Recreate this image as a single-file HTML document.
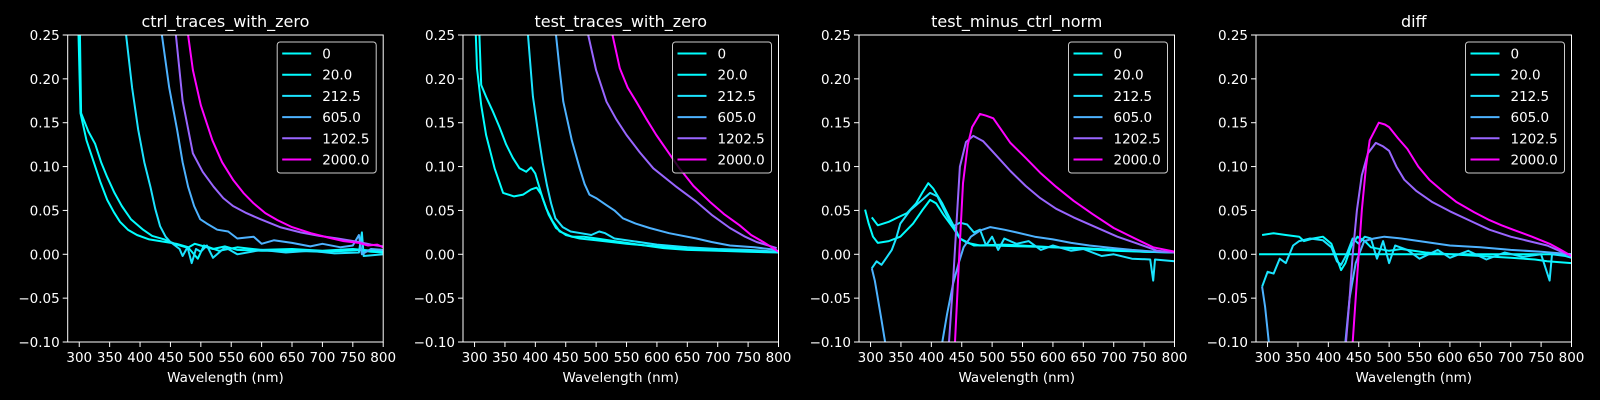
<!DOCTYPE html>
<html><head><meta charset="utf-8"><style>
html,body{margin:0;padding:0;background:#000;width:1600px;height:400px;overflow:hidden}
svg{display:block;font-family:"DejaVu Sans","Liberation Sans",sans-serif}
</style></head><body>
<svg id="fig" width="1600" height="400" viewBox="0 0 1600 400"></svg>
<script>
const panelTitles = ["ctrl_traces_with_zero","test_traces_with_zero","test_minus_ctrl_norm","diff"];
const seriesLabels = ["0","20.0","212.5","605.0","1202.5","2000.0"];
const seriesColors = ["#00ffff","#03fcff","#1be4ff","#4db2ff","#9966ff","#ff00ff"];
const xTicks = [300,350,400,450,500,550,600,650,700,750,800];
const yTicks = [-0.10,-0.05,0.00,0.05,0.10,0.15,0.20,0.25];
const yTickLabels = ["\u22120.10","\u22120.05","0.00","0.05","0.10","0.15","0.20","0.25"];

// panel 1: ctrl_traces_with_zero
const p1s0 = [[297,0.30],[302,0.161],[312,0.13],[323,0.107],[335,0.082],[346,0.062],[357,0.048],[367,0.037],[380,0.028],[395,0.022],[415,0.017],[433,0.015],[460,0.012],[480,0.008],[490,0.012],[500,0.01],[520,0.006],[540,0.009],[560,0.005],[600,0.004],[650,0.004],[700,0.003],[740,0.004],[760,0.005],[780,0.003],[800,0.002]];
const p1s1 = [[300,0.30],[303,0.161],[315,0.14],[326,0.126],[336,0.105],[346,0.088],[358,0.07],[370,0.055],[385,0.04],[405,0.028],[420,0.021],[440,0.017],[460,0.011],[480,0.007],[495,-0.005],[505,0.01],[530,0.004],[560,0.008],[600,0.005],[650,0.006],[700,0.004],[750,0.006],[800,0.003]];
const p1s2 = [[375,0.30],[377,0.25],[387,0.19],[397,0.142],[407,0.105],[417,0.077],[425,0.052],[433,0.032],[442,0.02],[450,0.014],[465,0.006],[470,-0.002],[478,0.008],[485,-0.01],[492,0.006],[500,0.003],[510,0.01],[520,-0.004],[540,0.008],[560,0.0],[600,0.005],[640,0.002],[680,0.004],[720,0.001],[760,0.002],[765,0.025],[768,-0.002],[800,0.0]];
const p1s3 = [[434,0.30],[436,0.25],[448,0.19],[461,0.142],[470,0.105],[479,0.077],[489,0.055],[499,0.04],[510,0.035],[527,0.028],[545,0.026],[560,0.018],[587,0.02],[600,0.012],[620,0.016],[650,0.013],[680,0.009],[700,0.012],[730,0.008],[750,0.01],[760,0.022],[765,0.0],[780,0.006],[800,0.005]];
const p1s4 = [[457,0.30],[459,0.25],[470,0.175],[487,0.115],[503,0.094],[521,0.077],[537,0.064],[553,0.055],[575,0.047],[598,0.04],[630,0.031],[664,0.025],[695,0.021],[725,0.018],[760,0.014],[780,0.011],[800,0.009]];
const p1s5 = [[477,0.30],[479,0.25],[487,0.21],[500,0.17],[519,0.13],[535,0.105],[553,0.085],[570,0.07],[587,0.058],[606,0.047],[626,0.039],[650,0.031],[681,0.024],[710,0.019],[735,0.015],[760,0.013],[775,0.01],[790,0.011],[800,0.008]];

// panel 2: test_traces_with_zero
const p2s0 = [[300,0.30],[302,0.25],[304,0.212],[311,0.17],[319,0.136],[333,0.098],[347,0.07],[365,0.066],[380,0.068],[393,0.074],[402,0.076],[410,0.068],[418,0.052],[428,0.038],[440,0.026],[460,0.02],[480,0.02],[501,0.018],[530,0.015],[560,0.012],[611,0.007],[650,0.005],[700,0.004],[750,0.003],[800,0.002]];
const p2s1 = [[306,0.30],[308,0.25],[311,0.193],[320,0.178],[330,0.163],[341,0.145],[352,0.125],[363,0.11],[374,0.098],[385,0.094],[393,0.099],[400,0.092],[412,0.064],[422,0.045],[434,0.03],[450,0.022],[473,0.018],[500,0.016],[550,0.012],[600,0.009],[650,0.006],[700,0.005],[750,0.004],[800,0.003]];
const p2s2 = [[387,0.30],[388,0.25],[396,0.18],[405,0.136],[412,0.105],[419,0.079],[426,0.058],[433,0.041],[445,0.031],[458,0.026],[475,0.024],[492,0.022],[505,0.026],[515,0.024],[530,0.018],[560,0.015],[600,0.011],[650,0.008],[700,0.006],[750,0.005],[800,0.003]];
const p2s3 = [[432,0.30],[434,0.25],[440,0.21],[446,0.174],[460,0.13],[473,0.098],[481,0.08],[489,0.068],[500,0.064],[517,0.056],[530,0.05],[544,0.041],[565,0.035],[588,0.03],[620,0.024],[665,0.018],[690,0.014],[720,0.01],[760,0.008],[797,0.005]];
const p2s4 = [[485,0.30],[487,0.25],[500,0.21],[517,0.174],[533,0.154],[550,0.136],[572,0.116],[594,0.098],[630,0.078],[665,0.06],[690,0.045],[720,0.03],[745,0.02],[764,0.014],[797,0.007]];
const p2s5 = [[525,0.30],[527,0.25],[539,0.212],[552,0.19],[566,0.174],[582,0.155],[599,0.136],[618,0.117],[637,0.098],[660,0.078],[687,0.06],[710,0.046],[736,0.033],[755,0.022],[775,0.014],[800,0.003]];

// panel 3: test_minus_ctrl_norm
const p3s0 = [[291,0.051],[297,0.035],[304,0.02],[312,0.013],[330,0.015],[349,0.02],[370,0.035],[385,0.05],[398,0.062],[408,0.058],[420,0.045],[436,0.03],[447,0.018],[459,0.013],[480,0.01],[500,0.01],[550,0.009],[600,0.008],[650,0.006],[700,0.004],[750,0.003],[800,0.002]];
const p3s1 = [[302,0.042],[312,0.033],[330,0.037],[345,0.042],[360,0.047],[375,0.058],[385,0.07],[395,0.081],[403,0.075],[418,0.058],[431,0.04],[440,0.028],[447,0.018],[470,0.01],[520,0.011],[600,0.008],[650,0.007],[700,0.005],[750,0.003],[800,0.002]];
const p3s2 = [[302,-0.016],[310,-0.008],[318,-0.012],[327,-0.003],[335,0.005],[342,0.018],[349,0.035],[365,0.05],[385,0.062],[398,0.07],[410,0.066],[425,0.045],[436,0.032],[447,0.036],[459,0.034],[470,0.025],[480,0.028],[490,0.01],[500,0.02],[510,0.005],[520,0.018],[540,0.012],[560,0.015],[580,0.005],[600,0.01],[630,0.004],[650,0.006],[680,-0.002],[700,0.0],[730,-0.005],[760,-0.006],[765,-0.03],[768,-0.006],[800,-0.008]];
const p3s3 = [[302,-0.016],[307,-0.03],[311,-0.046],[318,-0.075],[324,-0.1],[326,-0.13],[416,-0.13],[418,-0.1],[426,-0.068],[436,-0.033],[445,-0.01],[453,0.008],[465,0.02],[480,0.027],[497,0.031],[520,0.028],[540,0.025],[570,0.02],[600,0.017],[630,0.013],[660,0.01],[700,0.007],[730,0.005],[770,0.003],[800,0.002]];
const p3s4 = [[425,-0.13],[429,-0.1],[435,-0.04],[440,0.02],[447,0.1],[457,0.128],[469,0.135],[485,0.129],[505,0.114],[530,0.095],[555,0.078],[579,0.064],[605,0.052],[634,0.042],[670,0.031],[706,0.02],[740,0.012],[772,0.004],[800,0.002]];
const p3s5 = [[436,-0.13],[439,-0.1],[446,0.0],[452,0.081],[460,0.125],[467,0.145],[480,0.16],[490,0.158],[502,0.155],[515,0.142],[530,0.127],[555,0.11],[579,0.093],[605,0.077],[634,0.061],[665,0.046],[700,0.03],[735,0.018],[765,0.008],[800,0.003]];

// panel 4: diff
const p4s0 = [[286,0.0],[400,0.0],[500,0.0],[600,0.0],[700,0.0],[800,0.0]];
const p4s1 = [[291,0.022],[310,0.024],[330,0.022],[352,0.02],[360,0.015],[375,0.018],[391,0.02],[405,0.012],[414,-0.005],[421,-0.018],[428,-0.01],[438,0.01],[448,0.02],[460,0.015],[470,0.008],[500,0.004],[520,0.006],[560,0.002],[600,0.0],[650,-0.002],[700,-0.004],[740,-0.006],[760,-0.008],[800,-0.01]];
const p4s2 = [[291,-0.037],[300,-0.02],[310,-0.022],[320,-0.005],[330,-0.01],[342,0.01],[352,0.015],[370,0.018],[391,0.016],[405,0.008],[414,-0.008],[421,-0.012],[430,0.0],[440,0.018],[450,0.012],[460,0.02],[470,0.018],[480,-0.005],[490,0.015],[500,-0.01],[510,0.01],[530,0.005],[550,-0.005],[580,0.005],[600,-0.004],[630,0.004],[660,-0.006],[690,0.002],[720,-0.003],[750,0.0],[764,-0.03],[768,0.0],[790,-0.002],[800,-0.004]];
const p4s3 = [[291,-0.037],[296,-0.06],[302,-0.1],[305,-0.13],[426,-0.13],[428,-0.1],[435,-0.05],[445,-0.01],[459,0.015],[475,0.018],[492,0.02],[520,0.018],[550,0.015],[600,0.01],[650,0.008],[700,0.005],[750,0.003],[800,0.0]];
const p4s4 = [[426,-0.13],[429,-0.1],[435,-0.05],[440,0.0],[447,0.05],[455,0.09],[465,0.115],[478,0.127],[490,0.123],[500,0.118],[512,0.1],[525,0.085],[545,0.072],[570,0.06],[600,0.049],[631,0.039],[665,0.028],[700,0.02],[730,0.015],[760,0.01],[780,0.004],[800,-0.002]];
const p4s5 = [[437,-0.13],[440,-0.1],[447,-0.03],[455,0.05],[462,0.1],[468,0.13],[483,0.15],[493,0.148],[500,0.145],[515,0.132],[530,0.12],[548,0.1],[566,0.085],[588,0.072],[610,0.06],[640,0.048],[665,0.039],[685,0.033],[704,0.028],[735,0.02],[764,0.012],[780,0.006],[800,-0.002]];

const panelSeries = [[p1s0,p1s1,p1s2,p1s3,p1s4,p1s5],[p2s0,p2s1,p2s2,p2s3,p2s4,p2s5],[p3s0,p3s1,p3s2,p3s3,p3s4,p3s5],[p4s0,p4s1,p4s2,p4s3,p4s4,p4s5]];

const NS="http://www.w3.org/2000/svg";
const fig=document.getElementById('fig');
const panelLefts=[67.7,463,859,1256];
const AW=315.5, TOP=35, BOT=342;
const XMIN=281, XMAX=800, YMIN=-0.10, YMAX=0.25;
function mk(tag,attrs,parent){const e=document.createElementNS(NS,tag);for(const k in attrs)e.setAttribute(k,attrs[k]);(parent||fig).appendChild(e);return e;}

panelTitles.forEach((title,pi)=>{
  const L=panelLefts[pi];
  const sx=v=>L+(v-XMIN)/(XMAX-XMIN)*AW;
  const sy=v=>BOT-(v-YMIN)/(YMAX-YMIN)*(BOT-TOP);
  const g=mk('g',{});
  
  
  const cp=mk('clipPath',{id:'clip'+pi},g);
  mk('rect',{x:L,y:TOP,width:AW,height:BOT-TOP},cp);
  const sg=mk('g',{'clip-path':'url(#clip'+pi+')'},g);
  panelSeries[pi].forEach((pts,si)=>{
    const d=pts.map((p,i)=>(i?'L':'M')+sx(p[0]).toFixed(1)+' '+sy(p[1]).toFixed(1)).join(' ');
    const path=mk('path',{d:d,fill:'none',stroke:seriesColors[si],'stroke-width':2,'stroke-linejoin':'round'},sg);
    
    
  });
  const fr=mk('rect',{x:L,y:TOP,width:AW,height:BOT-TOP,fill:'none',stroke:'#fff','stroke-width':1},g);
  
  
  xTicks.forEach(t=>{
    const x=sx(t);
    mk('line',{x1:x,x2:x,y1:BOT,y2:BOT+5,stroke:'#fff','stroke-width':1},g);
    const tx=mk('text',{x:x,y:BOT+20,fill:'#fff','font-size':13.5,'text-anchor':'middle'},g);
    tx.textContent=t;
    
    
  });
  yTicks.forEach((t,i)=>{
    const y=sy(t);
    mk('line',{x1:L-5,x2:L,y1:y,y2:y,stroke:'#fff','stroke-width':1},g);
    const ty=mk('text',{x:L-8,y:y+5,fill:'#fff','font-size':13.5,'text-anchor':'end'},g);
    ty.textContent=yTickLabels[i];
    
    
  });
  const xl=mk('text',{x:L+AW/2,y:382,fill:'#fff','font-size':13.5,'text-anchor':'middle'},g);
  xl.textContent='Wavelength (nm)';
  
  
  const tt=mk('text',{x:L+AW/2,y:27,fill:'#fff','font-size':16,'text-anchor':'middle'},g);
  tt.textContent=title;
  
  
  const lx=L+AW-106, ly=42;
  const lg=mk('g',{},g);
  
  
  mk('rect',{x:lx,y:ly,width:99,height:131,rx:3,fill:'#000',stroke:'#cccccc','stroke-width':1,'fill-opacity':0.8},lg);
  seriesLabels.forEach((lab,si)=>{
    const ry=ly+11.5+si*21.2;
    const e=mk('g',{},lg);
    
    
    mk('line',{x1:lx+5,x2:lx+34,y1:ry,y2:ry,stroke:seriesColors[si],'stroke-width':2},e);
    const t=mk('text',{x:lx+45,y:ry+5,fill:'#fff','font-size':13.5},e);
    t.textContent=lab;
  });
});
</script>
</body></html>
